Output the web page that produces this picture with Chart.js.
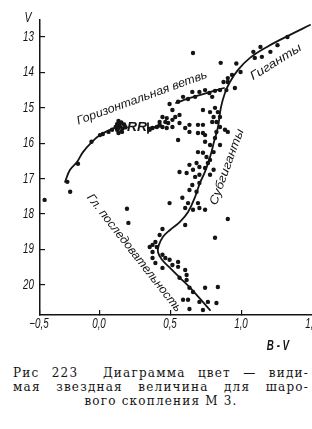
<!DOCTYPE html>
<html>
<head>
<meta charset="utf-8">
<script src="https://cdn.jsdelivr.net/npm/chart.js@4.4.0/dist/chart.umd.min.js"></script>
<style>
    html, body { margin: 0; padding: 0; background: #fff; overflow: hidden; width: 312px; height: 429px; }
    #wrap { position: relative; width: 312px; height: 429px; overflow: hidden; }
    canvas { position: absolute; left: 0; top: 0; }
    .cap { position: absolute; left: 13px; top: 366px; width: 296px; font-family: 'DejaVu Serif', 'Liberation Serif', serif; font-size: 12px; line-height: 14px; color: #141414; letter-spacing: 1.2px; }
    .j { text-align: justify; text-align-last: justify; }
    .c { text-align: center; }
</style>
</head>
<body>
<div id="wrap">
    <canvas id="cmd" width="330" height="360"></canvas>
    <div class="cap">
        <div class="j">Рис 223&nbsp; Диаграмма цвет — види-</div>
        <div class="j">мая звездная величина для шаро-</div>
        <div class="c">вого скопления М 3.</div>
    </div>
</div>
<script>
// axes
const xMin = -0.4225, xMax = 1.5;
const yMin = 12.52, yMax = 20.85;
const xTickValues = [-0.4225, 0, 0.5, 1.0, 1.5];
const xTickLabels = ['−0,5', '0,0', '0,5', '1,0', '1,5'];
const yTickValues = [13, 14, 15, 16, 17, 18, 19, 20];
const yTickLabels = ['13', '14', '15', '16', '17', '18', '19', '20'];

// stars, B-V / V
const blueBV = [-0.39, -0.21, -0.23, -0.155, 0.19, 0.20, -0.06, 0.0, 0.02, 0.06, 0.085, 0.11, 0.12, 0.13, 0.14, 0.155, 0.13];
const blueV  = [17.60, 17.37, 17.09, 16.58, 17.85, 18.25, 15.96, 15.77, 15.74, 15.68, 15.62, 15.54, 15.46, 15.57, 15.43, 15.68, 15.71];
const rrBV = [0.13, 0.15, 0.17, 0.14, 0.16, 0.12, 0.15, 0.18];
const rrV  = [15.37, 15.41, 15.47, 15.52, 15.58, 15.62, 15.66, 15.55];
const redHbBV = [0.35, 0.37, 0.40, 0.42, 0.42, 0.44, 0.44, 0.46, 0.47, 0.47, 0.48, 0.51, 0.51, 0.51, 0.53, 0.56, 0.56, 0.60, 0.49, 0.55, 0.585, 0.62, 0.65, 0.67, 0.70, 0.74, 0.77, 0.81, 0.845, 0.79, 0.655, 0.63, 0.69, 0.63, 0.69, 0.74, 0.55];
const redHbV  = [15.62, 15.57, 15.54, 15.48, 15.40, 15.54, 15.26, 15.40, 15.29, 15.57, 15.43, 15.34, 15.54, 15.06, 15.26, 15.20, 15.43, 15.57, 14.89, 14.83, 14.69, 14.75, 14.55, 14.69, 14.55, 14.50, 14.58, 14.52, 14.50, 14.69, 13.45, 15.48, 15.48, 15.68, 15.71, 15.77, 15.91];
const giantBV = [0.85, 0.96, 0.99, 0.93, 0.90, 0.87, 0.90, 0.95, 0.89, 1.08, 1.09, 1.13, 1.14, 1.20, 1.25, 1.32];
const giantV  = [13.73, 13.75, 13.99, 14.07, 14.16, 14.27, 14.27, 14.44, 14.50, 13.42, 13.59, 13.28, 13.56, 13.42, 13.23, 13.00];
const subBV = [0.725, 0.775, 0.81, 0.83, 0.80, 0.845, 0.82, 0.845, 0.88, 0.90, 0.79, 0.725, 0.725, 0.82, 0.81, 0.74, 0.775, 0.845, 0.69, 0.725, 0.80, 0.75, 0.775, 0.76, 0.68, 0.63, 0.70, 0.74, 0.56, 0.61, 0.655, 0.80, 0.70, 0.67, 0.775, 0.70, 0.65, 0.63, 0.68, 0.58, 0.62, 0.69, 0.60, 0.655, 0.49, 0.70, 0.74, 0.90, 0.60, 0.81];
const subV  = [15.06, 15.12, 15.00, 15.12, 15.26, 15.26, 15.40, 15.54, 15.62, 15.68, 15.40, 15.48, 15.71, 15.68, 15.85, 15.96, 16.05, 16.05, 16.25, 16.27, 16.25, 16.39, 16.47, 16.56, 16.56, 16.61, 16.67, 16.70, 16.81, 16.84, 16.75, 16.75, 16.89, 16.95, 16.89, 17.12, 17.18, 17.32, 17.37, 17.54, 17.69, 17.69, 17.83, 17.88, 17.69, 17.83, 17.88, 18.14, 18.31, 18.67];
const msBV = [0.44, 0.42, 0.39, 0.37, 0.40, 0.35, 0.37, 0.37, 0.39, 0.44, 0.44, 0.46, 0.49, 0.51, 0.55, 0.55, 0.60, 0.61, 0.56, 0.61, 0.63, 0.655, 0.74, 0.83, 0.585, 0.62, 0.70, 0.76, 0.82, 0.63, 0.725];
const msV  = [18.42, 18.59, 18.79, 18.87, 18.93, 18.93, 19.07, 19.24, 19.38, 19.52, 19.15, 19.24, 19.29, 19.44, 19.35, 19.49, 19.58, 19.72, 19.80, 19.86, 20.08, 20.20, 20.08, 20.06, 20.42, 20.42, 20.48, 20.48, 20.51, 20.68, 20.71];

// drawn sequences
const mainBV = [1.479, 1.338, 1.176, 1.056, 0.972, 0.915, 0.880, 0.852, 0.831, 0.803, 0.775, 0.739, 0.704, 0.669, 0.620, 0.563, 0.493, 0.444, 0.415, 0.408, 0.437, 0.493, 0.563, 0.634, 0.704, 0.775];
const mainV  = [12.66, 12.94, 13.28, 13.59, 13.93, 14.27, 14.58, 14.98, 15.54, 15.96, 16.39, 16.81, 17.12, 17.52, 17.94, 18.22, 18.45, 18.64, 18.87, 19.07, 19.29, 19.52, 19.80, 20.08, 20.39, 20.71];
const hbBlueBV = [-0.246, -0.211, -0.162, -0.120, -0.056, 0.0, 0.070, 0.141];
const hbBlueV  = [17.09, 16.75, 16.53, 16.25, 15.96, 15.77, 15.62, 15.51];
const hbRedBV = [0.535, 0.634, 0.754, 0.873];
const hbRedV  = [14.86, 14.72, 14.58, 14.44];
const rrEdgeBV = [0.338, 0.338];
const rrEdgeV  = [15.43, 15.71];
const rrTailBV = [0.338, 0.44];
const rrTailV  = [15.57, 15.52];

const notes = [
    { text: 'Горизонтальная ветвь', bv: 0.296, v: 14.72, angle: -20, width: 138 },
    { text: 'RR', bv: 0.26, v: 15.57, angle: 0, width: 20, bold: true },
    { text: 'Гиганты', bv: 1.239, v: 13.71, angle: -32, width: 58 },
    { text: 'Субгиганты', bv: 0.894, v: 16.67, angle: -70, width: 80 },
    { text: 'Гл. последовательность', bv: 0.24, v: 19.10, angle: 52, width: 146 }
];

const ink = '#141414';
const labelFamily = "'Liberation Sans', Arimo, 'DejaVu Sans', sans-serif";
const squeeze = 0.7;

const toPoints = (xs, ys) => xs.map((x, i) => ({ x: x, y: ys[i] }));

function starSet(xs, ys) {
    return { data: toPoints(xs, ys), pointRadius: 2.2, pointHoverRadius: 2.2, backgroundColor: ink, borderWidth: 0, showLine: false };
}
function curve(xs, ys, tension) {
    return { data: toPoints(xs, ys), showLine: true, pointRadius: 0, borderColor: ink, borderWidth: 1.8, tension: tension, borderCapStyle: 'round', fill: false };
}

// narrow italic text, the way the print has it
function narrowText(c, text, x, y, font, align) {
    c.save();
    c.font = font;
    c.textAlign = align;
    c.textBaseline = 'middle';
    c.translate(x, y);
    c.scale(squeeze, 1);
    c.fillText(text, 0, 0);
    c.restore();
}

const notesPlugin = {
    id: 'notes',
    afterDatasetsDraw(chart) {
        const c = chart.ctx, sx = chart.scales.x, sy = chart.scales.y, area = chart.chartArea;
        c.save();
        c.fillStyle = ink;
        c.textAlign = 'center';
        c.textBaseline = 'middle';
        notes.forEach(n => {
            c.save();
            c.font = (n.bold ? 'italic bold ' : 'italic ') + '12px ' + labelFamily;
            c.translate(sx.getPixelForValue(n.bv), sy.getPixelForValue(n.v));
            c.rotate(n.angle * Math.PI / 180);
            const w = c.measureText(n.text).width;
            c.scale(n.width / w, 1);
            c.fillText(n.text, 0, 0);
            c.restore();
        });

        const tickFont = 'italic 14px ' + labelFamily;
        yTickValues.forEach((v, i) => narrowText(c, yTickLabels[i], area.left - 6, sy.getPixelForValue(v), tickFont, 'right'));
        xTickValues.forEach((v, i) => narrowText(c, xTickLabels[i], sx.getPixelForValue(v) - 1, area.bottom + 9, tickFont, 'center'));
        narrowText(c, 'V', area.left - 12, area.top - 2, 'italic 15px ' + labelFamily, 'center');
        narrowText(c, 'B - V', 278, area.bottom + 31, 'italic bold 14px ' + labelFamily, 'center');
        c.restore();
    }
};

new Chart(document.getElementById('cmd'), {
    type: 'scatter',
    data: {
        datasets: [
            starSet(blueBV, blueV),
            starSet(rrBV, rrV),
            starSet(redHbBV, redHbV),
            starSet(giantBV, giantV),
            starSet(subBV, subV),
            starSet(msBV, msV),
            curve(mainBV, mainV, 0.4),
            curve(hbBlueBV, hbBlueV, 0.4),
            curve(hbRedBV, hbRedV, 0.3),
            curve(rrEdgeBV, rrEdgeV, 0),
            curve(rrTailBV, rrTailV, 0)
        ]
    },
    options: {
        responsive: false,
        animation: false,
        events: [],
        layout: { padding: { top: 20, right: 17, left: 0, bottom: 0 } },
        plugins: { legend: { display: false }, tooltip: { enabled: false } },
        scales: {
            x: {
                type: 'linear', min: xMin, max: xMax,
                afterBuildTicks: s => { s.ticks = xTickValues.map(v => ({ value: v })); },
                afterFit: s => { s.height = 45; },
                ticks: { display: false },
                grid: { drawOnChartArea: false, tickLength: -5, color: ink, lineWidth: 1.2 },
                border: { color: ink, width: 1.5 }
            },
            y: {
                type: 'linear', reverse: true, min: yMin, max: yMax,
                afterBuildTicks: s => { s.ticks = yTickValues.map(v => ({ value: v })); },
                afterFit: s => { s.width = 40; },
                ticks: { display: false },
                grid: { drawOnChartArea: false, tickLength: -5, color: ink, lineWidth: 1.2 },
                border: { color: ink, width: 1.5 }
            }
        }
    },
    plugins: [notesPlugin]
});
</script>
</body>
</html>
